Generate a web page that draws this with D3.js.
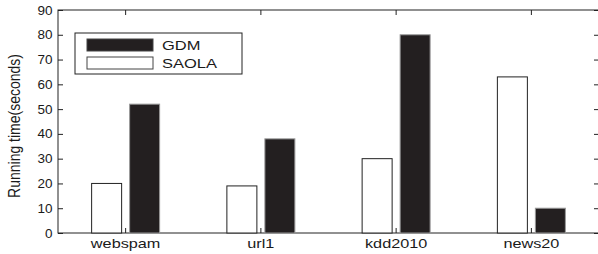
<!DOCTYPE html>
<html>
<head>
<meta charset="utf-8">
<script src="https://cdn.jsdelivr.net/npm/d3@7"></script>
<style>
  body { margin: 0; background: #fff; }
  text { font-family: "Liberation Sans", Arial, sans-serif; fill: #1a1a1a; }
</style>
</head>
<body>
<svg id="chart" width="598" height="254"></svg>
<script>
// running time per dataset
var datasets = ["webspam", "url1", "kdd2010", "news20"];
var saola = [20, 19, 30, 63];
var gdm = [52, 38, 80, 10];
var yTicks = [0, 10, 20, 30, 40, 50, 60, 70, 80, 90];

var svg = d3.select("#chart"),
    mLeft = 58, mRight = 599, mTop = 10, mBottom = 233;

var x = d3.scaleBand()
    .domain(datasets)
    .range([mLeft, mRight]);

var y = d3.scaleLinear()
    .domain([0, 90])
    .range([mBottom, mTop]);

var barW = 30, off = 19;

// frame
svg.append("rect")
    .attr("x", mLeft).attr("y", mTop)
    .attr("width", mRight - mLeft).attr("height", mBottom - mTop)
    .attr("fill", "none").attr("stroke", "#222").attr("stroke-width", 1);

var g = svg.append("g");

// saola bars (white)
g.selectAll("rect.saola")
    .data(datasets)
    .enter().append("rect")
    .attr("class", "saola")
    .attr("x", function (d) { return x(d) + x.bandwidth() / 2 - off - barW / 2; })
    .attr("y", function (d, i) { return y(saola[i]); })
    .attr("width", barW)
    .attr("height", function (d, i) { return mBottom - y(saola[i]); })
    .attr("fill", "#fff")
    .attr("stroke", "#222")
    .attr("stroke-width", 1);

// gdm bars (black)
g.selectAll("rect.gdm")
    .data(datasets)
    .enter().append("rect")
    .attr("class", "gdm")
    .attr("x", function (d) { return x(d) + x.bandwidth() / 2 + off - barW / 2; })
    .attr("y", function (d, i) { return y(gdm[i]); })
    .attr("width", barW)
    .attr("height", function (d, i) { return mBottom - y(gdm[i]); })
    .attr("fill", "#231f20")
    .attr("stroke", "#999")
    .attr("stroke-width", 1);

// y axis left
var yAxis = svg.append("g")
    .attr("transform", "translate(" + mLeft + ",0)")
    .call(d3.axisLeft(y).tickValues(yTicks).tickSize(-5).tickPadding(5));
yAxis.select(".domain").remove();
yAxis.selectAll("line").attr("stroke", "#222");
yAxis.selectAll("text").style("font-size", "12.5px").attr("fill", "#1a1a1a")
    .attr("transform", "scale(1.08,1)");

// y ticks on right side
svg.append("g")
    .attr("transform", "translate(" + mRight + ",0)")
    .call(d3.axisRight(y).tickValues(yTicks).tickSize(-5).tickFormat(""))
    .call(function (a) { a.select(".domain").remove(); a.selectAll("line").attr("stroke", "#222"); });

// x axis
var xAxis = svg.append("g")
    .attr("transform", "translate(0," + mBottom + ")")
    .call(d3.axisBottom(x).tickSize(-5).tickPadding(6));
xAxis.select(".domain").remove();
xAxis.selectAll("line").attr("stroke", "#222");
xAxis.selectAll("text").style("font-size", "13px").attr("fill", "#1a1a1a")
    .attr("transform", "scale(1.25,1)");

svg.append("g")
    .attr("transform", "translate(0," + mTop + ")")
    .call(d3.axisTop(x).tickSize(-5).tickFormat(""))
    .call(function (a) { a.select(".domain").remove(); a.selectAll("line").attr("stroke", "#222"); });

// y label
svg.append("text")
    .attr("transform", "translate(20,126) rotate(-90) scale(1,1.15)")
    .attr("text-anchor", "middle")
    .style("font-size", "14px")
    .text("Running time(seconds)");

// legend
var lg = svg.append("g").attr("transform", "translate(75,33)");
lg.append("rect").attr("width", 167).attr("height", 41)
    .attr("fill", "#fff").attr("stroke", "#222");
var legendItems = [{name: "GDM", fill: "#231f20"}, {name: "SAOLA", fill: "#fff"}];
lg.selectAll("rect.sw")
    .data(legendItems)
    .enter().append("rect")
    .attr("class", "sw")
    .attr("x", 12).attr("y", function (d, i) { return 6 + i * 18; })
    .attr("width", 66).attr("height", 12)
    .attr("fill", function (d) { return d.fill; })
    .attr("stroke", "#444");
lg.selectAll("text")
    .data(legendItems)
    .enter().append("text")
    .attr("transform", function (d, i) { return "translate(87," + (17 + i * 18) + ") scale(1.27,1)"; })
    .style("font-size", "13px")
    .text(function (d) { return d.name; });
</script>
</body>
</html>
